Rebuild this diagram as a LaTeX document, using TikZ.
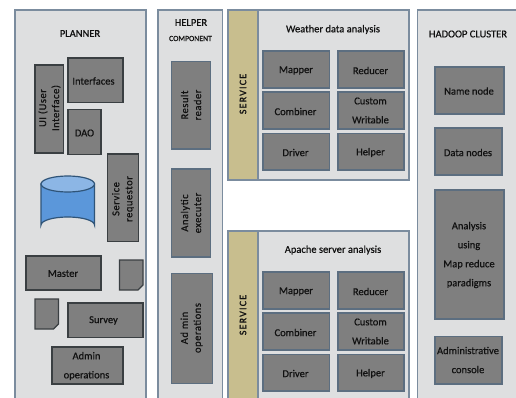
\documentclass[tikz,border=0pt]{standalone}
\usepackage{fontspec}
\setmainfont{Carlito}
\definecolor{panelbg}{HTML}{DEDFE0}
\definecolor{panelln}{HTML}{7B8C9E}
\definecolor{boxbg}{HTML}{7F7F7F}
\definecolor{boxdk}{HTML}{3A3F42}
\definecolor{boxbl}{HTML}{5C6E80}
\definecolor{svc}{HTML}{C8BE8E}
\definecolor{cylf}{HTML}{5B97DA}
\definecolor{cylt}{HTML}{2F5478}
\definecolor{txt}{HTML}{111111}
\newfontfamily\labfont[FakeBold=0.6]{Carlito}
\newfontfamily\vlabfont[FakeBold=0.5,LetterSpace=5]{Carlito}
\newfontfamily\svcfont[FakeBold=0.9,LetterSpace=12]{Carlito}
\tikzset{x=1pt,y=-1pt,
 panel/.style={draw=panelln,fill=panelbg,line width=1.5pt},
 dbox/.style={draw=boxdk,fill=boxbg,line width=1.4pt},
 bbox/.style={draw=boxbl,fill=boxbg,line width=1.3pt},
 lab/.style={text=txt,font=\labfont\fontsize{10.5pt}{19pt}\selectfont,align=center,inner sep=0pt},
 head/.style={text=txt,font=\labfont\fontsize{10.5pt}{12pt}\selectfont,align=center,inner sep=0pt},
 vlab/.style={text=txt,rotate=90,font=\vlabfont\fontsize{10.5pt}{13pt}\selectfont,align=center,inner sep=0pt},
 svclab/.style={text=txt,rotate=90,font=\svcfont\fontsize{10pt}{12pt}\selectfont,inner sep=0pt},
}
\newcommand{\fold}[5]{% name x1 y1 x2 y2
 \draw[dbox] (#2,#3) -- (#4,#3) -- (#4,#5-5) -- (#4-5,#5) -- (#2,#5) -- cycle;
 \coordinate (#1) at (#2,#3);
}
\newcommand{\svcgrid}[1]{%
 \begin{scope}[yshift=#1]
 \draw[bbox] (263,51) rectangle (329.5,88);
 \node[lab] at (296,70.5) {Mapper};
 \draw[bbox] (338,51) rectangle (404,88);
 \node[lab] at (370.5,70.5) {Reducer};
 \draw[bbox] (263,92) rectangle (329.5,129);
 \node[lab] at (295.5,111.5) {Combiner};
 \draw[bbox] (338,92) rectangle (404,129);
 \node[lab] at (370.5,110.5) {Custom\\Writable};
 \draw[bbox] (263,133.5) rectangle (329.5,170);
 \node[lab] at (295.5,152.5) {Driver};
 \draw[bbox] (338,133.5) rectangle (404,170);
 \node[lab] at (370.5,152.5) {Helper};
 \end{scope}}
\begin{document}
\begin{tikzpicture}
\useasboundingbox (0,0) rectangle (516,398);
\fill[white] (0,0) rectangle (516,398);
\begin{scope}
\clip (0,0) rectangle (516,398);
\draw[panel] (15,10) rectangle (146,410);
\draw[panel] (158,10) rectangle (222.5,410);
\fill[panelbg] (228,10) rectangle (409,180);
\fill[panelbg] (228,231) rectangle (409,410);
\draw[panel] (417.5,10) rectangle (530,410);
\fill[svc] (228.5,10.5) rectangle (258,179.5);
\fill[svc] (228.5,231.5) rectangle (258,410);
\draw[panelln,line width=1.2pt] (258,10) -- (258,180);
\draw[panelln,line width=1.2pt] (258,231) -- (258,410);
\draw[panel,fill=none] (228,10) rectangle (409,180);
\draw[panel,fill=none] (228,231) rectangle (409,410);
\end{scope}
% planner
\node[head] (planner) at (80,33.5) {PLANNER};
\draw[dbox] (35,65) rectangle (63.5,153);
\node[vlab] (ui) at (49.5,108) {UI (User\\Interface)};
\draw[dbox] (68,58) rectangle (123,102.5);
\node[lab] (interfaces) at (93.5,81) {Interfaces};
\draw[dbox] (68,109.5) rectangle (101,154.5);
\node[lab] (dao) at (84.5,133) {DAO};
\draw[dbox] (107.5,154) rectangle (138.5,241.5);
\node[vlab] (sr) at (123,199) {Service\\requestor};
% cylinder
\draw[cylt,line width=1.2pt,fill=cylf] (41,184) -- (41,225) arc[start angle=180,end angle=360,x radius=26.75,y radius=8] -- (94.5,184) -- cycle;
\draw[cylt,line width=1.2pt,fill=cylf!70!white] (67.75,184) ellipse[x radius=26.75,y radius=8];
\draw[dbox] (26,256) rectangle (101,290);
\node[lab] (master) at (63,273.5) {Master};
\fold{n1}{119.5}{260}{143}{290}
\fold{n2}{35}{299}{58.5}{329}
\draw[dbox] (68,303) rectangle (143,337.5);
\node[lab] (survey) at (103.5,320.5) {Survey};
\draw[dbox] (52,347) rectangle (123,384);
\node[lab] (admin) at (86.5,366) {Admin\\operations};
% helper
\node[head] (helper) at (191,22.5) {HELPER};
\node[head,font=\labfont\fontsize{7.8pt}{9pt}\selectfont] (comp) at (190.5,38.5) {COMPONENT};
\draw[bbox] (171.5,61.5) rectangle (210.5,149);
\node[vlab] (rr) at (191,105) {Result\\reader};
\draw[bbox] (171.5,169) rectangle (210.5,257);
\node[vlab] (ae) at (191,213) {Analytic\\executer};
\draw[bbox] (171.5,273.5) rectangle (212.5,383.5);
\node[vlab] (ao) at (191.5,328) {Ad min\\operations};
% weather
\node[svclab] (s1) at (243,94) {SERVICE};
\node[head] (wt) at (333,29.5) {Weather data analysis};
\svcgrid{0pt}
\node[svclab] (s2) at (243,315) {SERVICE};
\node[head] (at) at (333,250) {Apache server analysis};
\svcgrid{-221pt}
% hadoop
\node[head] (hc) at (468,34) {HADOOP CLUSTER};
\draw[bbox] (435,67) rectangle (504,114);
\node[lab] (nn) at (469,91) {Name node};
\draw[bbox] (435,128) rectangle (502,175);
\node[lab] (dn) at (468,152.5) {Data nodes};
\draw[bbox] (435,190) rectangle (504,319);
\node[lab] (an) at (469,255) {Analysis\\using\\Map reduce\\paradigms};
\draw[bbox] (435,336.5) rectangle (502,384);
\node[lab] (adm) at (468,360) {Administrative\\console};
\end{tikzpicture}
\end{document}
